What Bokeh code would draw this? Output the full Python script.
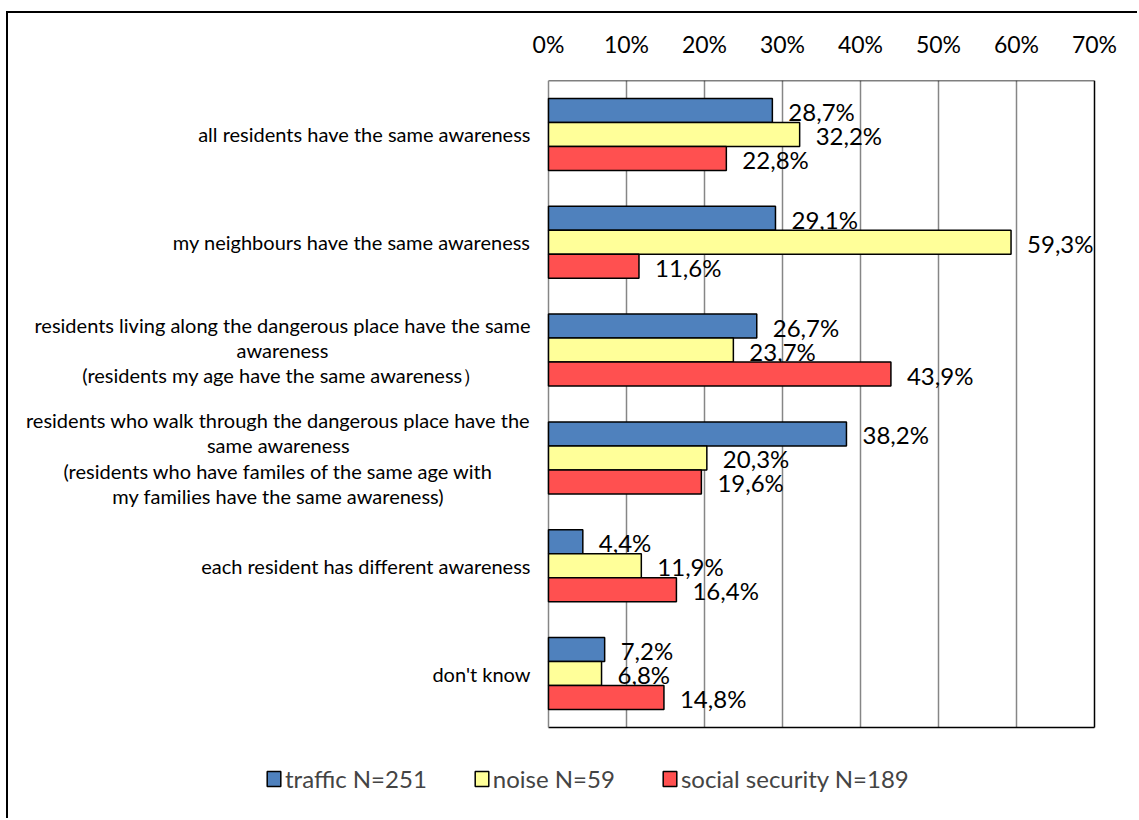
from bokeh.plotting import figure
from bokeh.models import FixedTicker, Legend, LegendItem, ColumnDataSource
from bokeh.embed import file_html
from bokeh.resources import INLINE
from bokeh.core.properties import value

categories = [
    "all residents have the same awareness",
    "my neighbours have the same awareness",
    "residents living along the dangerous place have the same\nawareness\n(residents my age have the same awareness\uff09",
    "residents who walk through the dangerous place have the\nsame awareness\n(residents who have familes of the same age with\nmy families have the same awareness)",
    "each resident has different awareness",
    "don't know",
]
traffic = [28.7, 29.1, 26.7, 38.2, 4.4, 7.2]
noise = [32.2, 59.3, 23.7, 20.3, 11.9, 6.8]
social = [22.8, 11.6, 43.9, 19.6, 16.4, 14.8]
series_names = ["traffic N=251", "noise N=59", "social security N=189"]
series_colors = ["#4F81BD", "#FFFF99", "#FF5050"]
x_ticks = [0, 10, 20, 30, 40, 50, 60, 70]
x_tick_labels = ["0%", "10%", "20%", "30%", "40%", "50%", "60%", "70%"]

FONT = "Lato"
n = len(categories)
xmax = x_ticks[-1]

# layout (pixels)
W, H = 1131, 807
TOP = 67                 # space for the top axis
PLOT_LEFT = 540          # plot area left edge inside the figure
PLOT_W = 546             # plot area width
PLOT_H = 647             # plot area height
px_x = PLOT_W / xmax
px_y = PLOT_H / n
x0 = -PLOT_LEFT / px_x
x1 = x0 + W / px_x
frame_h = H - TOP
y0 = n - frame_h / px_y

bar_h = 24 / px_y
centers = [n - 0.5 - i for i in range(n)]

p = figure(width=W, height=H, x_range=(x0, x1), y_range=(y0, n),
           x_axis_location="above", output_backend="svg", toolbar_location=None,
           min_border_left=0, min_border_right=0, min_border_top=TOP, min_border_bottom=0)
p.styles = {"border-left": "2px solid black", "border-top": "2px solid black",
            "margin-left": "6px", "margin-top": "11px"}
p.outline_line_color = None
p.xgrid.grid_line_color = None
p.ygrid.grid_line_color = None
p.yaxis.visible = False

# vertical grid lines inside plot area
inner = x_ticks[1:-1]
p.segment(x0=inner, x1=inner, y0=[0] * len(inner), y1=[n] * len(inner),
          line_color="#868686", line_width=1.5)
# plot area box
p.segment(x0=[0, xmax, 0], x1=[xmax, xmax, xmax], y0=[n, 0, 0], y1=[n, n, 0],
          line_color="black", line_width=1.5)
p.segment(x0=[0], x1=[0], y0=[0], y1=[n], line_color="#868686", line_width=1.5)

renderers = []
for k, (vals, col) in enumerate(zip([traffic, noise, social], series_colors)):
    off = bar_h * (1 - k)
    ys = [c + off for c in centers]
    src = ColumnDataSource(dict(y=ys, right=vals,
                                lab=[f"{v:.1f}".replace(".", ",") + "%" for v in vals]))
    r = p.hbar(y="y", left=0, right="right", height=bar_h, source=src,
               fill_color=col, line_color="black", line_width=1.5)
    renderers.append(r)
    p.text(x="right", y="y", text="lab", source=src, x_offset=16, y_offset=1,
           text_baseline="middle", text_align="left",
           text_font=value(FONT), text_font_size="24px", text_color="black")

# category labels (centred lines, block right-aligned to the axis)
csrc = ColumnDataSource(dict(x=[0] * n, y=centers, t=categories))
p.text(x="x", y="y", text="t", source=csrc, x_offset=-18,
       anchor=value("center_right"), text_align="center", text_baseline="middle",
       text_font=value(FONT), text_font_size="20px", text_color="black",
       text_line_height=1.05)

xa = p.xaxis[0]
xa.ticker = FixedTicker(ticks=x_ticks)
xa.major_label_overrides = {t: l for t, l in zip(x_ticks, x_tick_labels)}
xa.axis_line_color = None
xa.major_tick_line_color = None
xa.minor_tick_line_color = None
xa.major_label_standoff = 17
xa.major_label_text_font = FONT
xa.major_label_text_font_size = "23px"
xa.major_label_text_color = "black"

legend = Legend(items=[LegendItem(label=nm, renderers=[r]) for nm, r in zip(series_names, renderers)],
                orientation="horizontal", location=(257, 27), glyph_width=17, glyph_height=19,
                label_text_font=FONT, label_text_font_size="24px", label_standoff=3,
                spacing=46, padding=0, margin=0, border_line_color=None,
                background_fill_alpha=0)
p.add_layout(legend)

open("out.html", "w").write(file_html(p, INLINE))
